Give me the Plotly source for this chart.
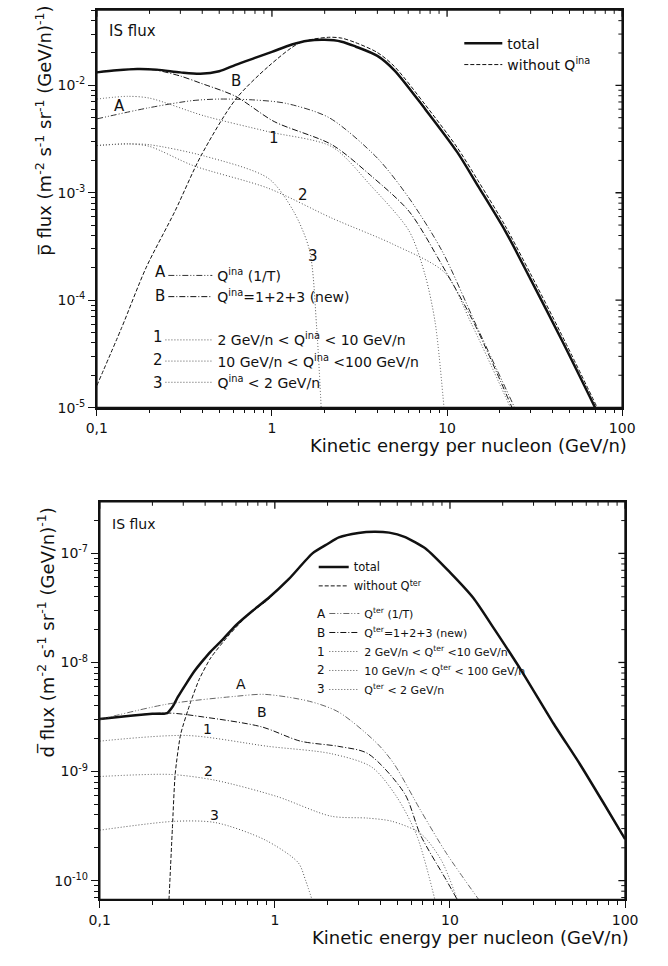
import math
import plotly.graph_objects as go

W, H = 668, 966
FONT = "DejaVu Sans"

# ---------------- top panel: antiproton IS flux ----------------
p_total_E = [0.1, 0.13, 0.17, 0.22, 0.3, 0.39, 0.5, 0.62, 0.8, 1.0, 1.3, 1.6, 2.0, 2.5, 3.0, 4.0, 5.0, 7.5, 11.4, 15, 21.5, 30, 45, 70]
p_total_F = [1.32e-2, 1.38e-2, 1.42e-2, 1.40e-2, 1.32e-2, 1.28e-2, 1.35e-2, 1.55e-2, 1.8e-2, 2.05e-2, 2.4e-2, 2.6e-2, 2.65e-2, 2.55e-2, 2.3e-2, 1.88e-2, 1.38e-2, 6.0e-3, 2.4e-3, 1.16e-3, 4.4e-4, 1.56e-4, 4.3e-5, 1.0e-5]

p_noina_E = [0.1, 0.139, 0.191, 0.279, 0.393, 0.62, 0.955, 1.45, 2.1, 2.5, 3.0, 4.0, 5.0, 7.5, 11.4, 15, 21.5, 30, 45, 72]
p_noina_F = [1.6e-5, 5.6e-5, 2.0e-4, 6.7e-4, 2.2e-3, 7.4e-3, 1.5e-2, 2.5e-2, 2.8e-2, 2.75e-2, 2.5e-2, 2.02e-2, 1.5e-2, 6.6e-3, 2.65e-3, 1.3e-3, 4.9e-4, 1.75e-4, 4.8e-5, 1.0e-5]

p_A_E = [0.1, 0.2, 0.35, 0.5, 0.8, 1.2, 2.12, 4.0, 6.07, 9.33, 14.7, 24.3]
p_A_F = [4.87e-3, 6.2e-3, 7.2e-3, 7.45e-3, 7.3e-3, 6.8e-3, 5.0e-3, 2.1e-3, 8.9e-4, 2.9e-4, 5.8e-5, 1.0e-5]

p_B_E = [0.1, 0.13, 0.17, 0.22, 0.3, 0.39, 0.62, 1.03, 2.2, 3.66, 6.07, 9.33, 14.2, 23.5]
p_B_F = [1.32e-2, 1.38e-2, 1.42e-2, 1.38e-2, 1.22e-2, 1.05e-2, 7.9e-3, 4.6e-3, 2.8e-3, 1.45e-3, 6.7e-4, 2.14e-4, 6.2e-5, 1.0e-5]

p_1_E = [0.1, 0.15, 0.2, 0.41, 0.955, 2.2, 3.66, 6.07, 7.5, 8.55, 9.6]
p_1_F = [7.45e-3, 7.9e-3, 7.6e-3, 5.2e-3, 3.7e-3, 2.68e-3, 1.17e-3, 4.4e-4, 1.7e-4, 6.2e-5, 1.0e-5]

p_2_E = [0.1, 0.15, 0.2, 0.355, 0.955, 2.2, 4.95, 9.7, 13.8, 23]
p_2_F = [2.75e-3, 2.85e-3, 2.7e-3, 1.79e-3, 1.1e-3, 5.8e-4, 3.3e-4, 1.8e-4, 6.0e-5, 1.0e-5]

p_3_E = [0.1, 0.15, 0.2, 0.41, 0.955, 1.33, 1.64, 1.8, 1.91]
p_3_F = [2.75e-3, 2.85e-3, 2.8e-3, 2.2e-3, 1.36e-3, 6.7e-4, 2.9e-4, 5.6e-5, 1.0e-5]

# ---------------- bottom panel: antideuteron IS flux ----------------
d_total_E = [0.1, 0.15, 0.2, 0.243, 0.26, 0.279, 0.31, 0.347, 0.39, 0.43, 0.5, 0.6, 0.75, 0.92, 1.2, 1.64, 2.0, 2.32, 3.0, 3.7, 4.5, 5.5, 7.25, 10, 13.6, 18, 25.7, 39, 55, 75, 100]
d_total_F = [3.03e-9, 3.25e-9, 3.38e-9, 3.44e-9, 3.9e-9, 4.8e-9, 6.3e-9, 8.3e-9, 1.05e-8, 1.26e-8, 1.6e-8, 2.2e-8, 3.0e-8, 3.9e-8, 5.8e-8, 1.0e-7, 1.22e-7, 1.4e-7, 1.54e-7, 1.58e-7, 1.55e-7, 1.42e-7, 1.11e-7, 6.7e-8, 3.9e-8, 2.0e-8, 8.3e-9, 2.76e-9, 1.18e-9, 5.2e-10, 2.4e-10]

d_noter_E = [0.245, 0.26, 0.27, 0.29, 0.33, 0.37, 0.43, 0.55, 0.7, 0.92, 1.2, 1.64, 2.0, 2.32, 3.0, 3.7, 4.5, 5.5, 7.25, 10, 13.6, 18, 25.7, 39, 55, 75, 100]
d_noter_F = [4e-11, 3e-10, 9.6e-10, 2.2e-9, 4.3e-9, 7e-9, 1.1e-8, 1.8e-8, 2.7e-8, 3.8e-8, 5.8e-8, 1.0e-7, 1.22e-7, 1.4e-7, 1.54e-7, 1.58e-7, 1.55e-7, 1.42e-7, 1.11e-7, 6.7e-8, 3.9e-8, 2.0e-8, 8.3e-9, 2.76e-9, 1.18e-9, 5.2e-10, 2.4e-10]

d_A_E = [0.1, 0.243, 0.6, 0.875, 1.58, 2.32, 3.85, 4.8, 6.8, 9.5, 14.6]
d_A_F = [3.0e-9, 4.15e-9, 4.9e-9, 5.1e-9, 4.4e-9, 3.5e-9, 1.8e-9, 1.17e-9, 4.4e-10, 1.8e-10, 6.7e-11]

d_B_E = [0.1, 0.243, 0.393, 0.84, 1.4, 2.32, 3.4, 5.5, 6.8, 9.5, 11]
d_B_F = [3.03e-9, 3.44e-9, 3.16e-9, 2.57e-9, 1.9e-9, 1.7e-9, 1.46e-9, 6.3e-10, 2.6e-10, 1.02e-10, 6.7e-11]

d_1_E = [0.1, 0.316, 0.92, 2.09, 3.57, 4.95, 6.46, 8.2]
d_1_F = [1.9e-9, 2.14e-9, 1.7e-9, 1.46e-9, 1.1e-9, 5.9e-10, 2.6e-10, 6.7e-11]

d_2_E = [0.1, 0.255, 0.46, 1.03, 2.09, 3.4, 4.66, 6.8, 8.9, 11]
d_2_F = [9.0e-10, 9.4e-10, 8.3e-10, 5.9e-10, 3.9e-10, 3.74e-10, 3.5e-10, 2.7e-10, 1.55e-10, 6.7e-11]

d_3_E = [0.1, 0.27, 0.46, 0.88, 1.36, 1.5, 1.63]
d_3_F = [2.9e-10, 3.5e-10, 3.4e-10, 2.36e-10, 1.46e-10, 1.0e-10, 6.7e-11]

# tick labels
x_tickvals = [0.1, 1, 10, 100]
x_ticktext = ["0,1", "1", "10", "100"]
p_y_tickvals = [1e-5, 1e-4, 1e-3, 1e-2]
p_y_ticktext = ["10<sup>-5</sup>", "10<sup>-4</sup>", "10<sup>-3</sup>", "10<sup>-2</sup>"]
d_y_tickvals = [1e-10, 1e-9, 1e-8, 1e-7]
d_y_ticktext = ["10<sup>-10</sup>", "10<sup>-9</sup>", "10<sup>-8</sup>", "10<sup>-7</sup>"]


def minor_vals(lo_exp, hi_exp, lo, hi):
    vals = []
    for d in range(lo_exp, hi_exp + 1):
        for k in range(2, 10):
            v = k * 10.0 ** d
            if lo <= v <= hi:
                vals.append(v)
    return vals


def px(x):
    return x / W


def py(y):
    return 1 - y / H


fig = go.Figure()

BLACK = "#111111"
GRAY = "#555555"


def add(E, F, name, line, xa, ya, legend, showlegend=True, group=None, smooth=0.8):
    line = dict(line, shape="spline", smoothing=smooth)
    fig.add_trace(go.Scatter(
        x=E, y=F, mode="lines", name=name, line=line,
        xaxis=xa, yaxis=ya, legend=legend, showlegend=showlegend,
        legendgroup=group, hoverinfo="skip"))


# top panel traces
add(p_total_E, p_total_F, "total", dict(color=BLACK, width=2.5), "x", "y", "legend")
add(p_noina_E, p_noina_F, "without Q<sup>ina</sup>", dict(color=BLACK, width=1, dash="4px,2px"), "x", "y", "legend")
add(p_A_E, p_A_F, "Q<sup>ina</sup> (1/T)", dict(color="#333333", width=1, dash="6px,2px,1px,2px,1px,2px"), "x", "y", "legend2", group="pA")
add(p_B_E, p_B_F, "Q<sup>ina</sup>=1+2+3 (new)", dict(color=BLACK, width=1, dash="6px,2px,1px,2px"), "x", "y", "legend2", group="pB")
add(p_1_E, p_1_F, "2 GeV/n < Q<sup>ina</sup> < 10 GeV/n", dict(color=GRAY, width=1, dash="1px,2px"), "x", "y", "legend3", group="p1")
add(p_2_E, p_2_F, "10 GeV/n < Q<sup>ina</sup> <100 GeV/n", dict(color=GRAY, width=1, dash="1px,2px"), "x", "y", "legend3", group="p2")
add(p_3_E, p_3_F, "Q<sup>ina</sup> < 2 GeV/n", dict(color=GRAY, width=1, dash="1px,2px"), "x", "y", "legend3", group="p3")

# bottom panel traces
add(d_total_E, d_total_F, "total", dict(color=BLACK, width=2.5), "x2", "y2", "legend4", smooth=0.6)
add(d_noter_E, d_noter_F, "without Q<sup>ter</sup>", dict(color=BLACK, width=1, dash="4px,2px"), "x2", "y2", "legend4", smooth=0.6)
add(d_A_E, d_A_F, "Q<sup>ter</sup> (1/T)", dict(color="#666666", width=1, dash="6px,2px,1px,2px,1px,2px"), "x2", "y2", "legend5")
add(d_B_E, d_B_F, "Q<sup>ter</sup>=1+2+3 (new)", dict(color=BLACK, width=1, dash="6px,2px,1px,2px"), "x2", "y2", "legend5")
add(d_1_E, d_1_F, "2 GeV/n < Q<sup>ter</sup> <10 GeV/n", dict(color=GRAY, width=1, dash="1px,2px"), "x2", "y2", "legend5")
add(d_2_E, d_2_F, "10 GeV/n < Q<sup>ter</sup> < 100 GeV/n", dict(color=GRAY, width=1, dash="1px,2px"), "x2", "y2", "legend5")
add(d_3_E, d_3_F, "Q<sup>ter</sup> < 2 GeV/n", dict(color=GRAY, width=1, dash="1px,2px"), "x2", "y2", "legend5")

P_YR = [-5, -1.298]
D_YR = [-10.173, -6.527]
XR = [-1, 2]
x_minor = minor_vals(-1, 1, 0.1, 100)
p_y_minor = minor_vals(-5, -2, 1e-5, 10 ** P_YR[1])
d_y_minor = minor_vals(-11, -7, 10 ** D_YR[0], 10 ** D_YR[1])

tickfont = dict(family=FONT, size=14, color=BLACK)


def xax(domain, anchor):
    return dict(type="log", range=XR, domain=domain, anchor=anchor,
                showline=True, linecolor=BLACK, linewidth=1.6, mirror=True,
                showgrid=False, zeroline=False, ticks="outside", ticklen=7, tickwidth=1.3,
                tickcolor=BLACK, tickmode="array", tickvals=x_tickvals,
                ticktext=x_ticktext, tickfont=tickfont,
                minor=dict(tickmode="array", tickvals=x_minor, ticks="outside", ticklen=4,
                           tickwidth=1, tickcolor=BLACK, showgrid=False),
                fixedrange=True)


def yax(domain, anchor, rng, tv, tt, mv):
    return dict(type="log", range=rng, domain=domain, anchor=anchor,
                showline=True, linecolor=BLACK, linewidth=1.6, mirror=True,
                showgrid=False, zeroline=False, ticks="outside", ticklen=7, tickwidth=1.3,
                tickcolor=BLACK, tickmode="array", tickvals=tv, ticktext=tt,
                tickfont=tickfont,
                minor=dict(tickmode="array", tickvals=mv, ticks="outside", ticklen=4,
                           tickwidth=1, tickcolor=BLACK, showgrid=False),
                fixedrange=True)


top_box = (89, 634, 10, 411)   # left, right, top, bottom in pixels
bot_box = (92, 637, 506, 907)
top_xd = [px(top_box[0]), px(top_box[1])]
top_yd = [py(top_box[3]), py(top_box[2])]
bot_xd = [px(bot_box[0]), px(bot_box[1])]
bot_yd = [py(bot_box[3]), py(bot_box[2])]

layout = dict(
    width=W, height=H, autosize=False,
    margin=dict(l=0, r=0, t=0, b=0),
    paper_bgcolor="white", plot_bgcolor="white",
    font=dict(family=FONT, size=14, color=BLACK),
    xaxis=xax(top_xd, "y"),
    yaxis=yax(top_yd, "x", P_YR, p_y_tickvals, p_y_ticktext, p_y_minor),
    xaxis2=xax(bot_xd, "y2"),
    yaxis2=yax(bot_yd, "x2", D_YR, d_y_tickvals, d_y_ticktext, d_y_minor),
    showlegend=True,
)

leg_common = dict(bgcolor="rgba(0,0,0,0)", borderwidth=0, xanchor="left", yanchor="top",
                  traceorder="normal")
layout["legend"] = dict(leg_common, x=px(465), y=py(28), font=dict(family=FONT, size=14, color=BLACK),
                        itemwidth=38)
layout["legend2"] = dict(leg_common, x=px(158), y=py(262), font=dict(family=FONT, size=14, color=BLACK),
                         itemwidth=44, tracegroupgap=2)
layout["legend3"] = dict(leg_common, x=px(155), y=py(327), font=dict(family=FONT, size=14, color=BLACK),
                         itemwidth=47, tracegroupgap=2)
layout["legend4"] = dict(leg_common, x=px(314), y=py(557), font=dict(family=FONT, size=11.5, color=BLACK),
                         itemwidth=30)
layout["legend5"] = dict(leg_common, x=px(325), y=py(604), font=dict(family=FONT, size=11, color=BLACK),
                         itemwidth=30)

fig.update_layout(**layout)

# frame drawn on the paper plus inward-pointing ticks on top/right
shapes = []
for xa, ya, box, xd, yd, ytv, ymv in [("x", "y", top_box, top_xd, top_yd, p_y_tickvals, p_y_minor),
                                      ("x2", "y2", bot_box, bot_xd, bot_yd, d_y_tickvals, d_y_minor)]:
    pw = box[1] - box[0]
    ph = box[3] - box[2]
    shapes.append(dict(type="rect", xref="paper", yref="paper", x0=xd[0], x1=xd[1], y0=yd[0], y1=yd[1],
                       line=dict(color=BLACK, width=1.6), fillcolor="rgba(0,0,0,0)", layer="above"))
    for vals, ln, wd in [(x_tickvals, 7, 1.3), (x_minor, 4, 1)]:
        for v in vals:
            shapes.append(dict(type="line", xref=xa, yref=ya + " domain", x0=v, x1=v,
                               y0=1, y1=1 - ln / ph, line=dict(color=BLACK, width=wd), layer="above"))
    for vals, ln, wd in [(ytv, 7, 1.3), (ymv, 4, 1)]:
        for v in vals:
            shapes.append(dict(type="line", xref=xa + " domain", yref=ya, x0=1, x1=1 - ln / pw,
                               y0=v, y1=v, line=dict(color=BLACK, width=wd), layer="above"))
fig.update_layout(shapes=shapes)

annotations = []


def ann_paper(text, x, y, size, xanchor="center", angle=0):
    annotations.append(dict(text=text, x=px(x), y=py(y), xref="paper", yref="paper",
                            showarrow=False, xanchor=xanchor, yanchor="middle",
                            textangle=angle, font=dict(family=FONT, size=size, color=BLACK)))


def ann_data(text, E, F, xa, ya, size):
    annotations.append(dict(text=text, x=math.log10(E), y=math.log10(F), xref=xa, yref=ya,
                            showarrow=False, xanchor="center", yanchor="middle",
                            font=dict(family=FONT, size=size, color=BLACK)))


# titles
ann_paper("IS flux", 100, 31, 15, xanchor="left")
ann_paper("IS flux", 103, 528, 14, xanchor="left")
ann_paper("Kinetic energy per nucleon (GeV/n)", 475, 449, 18)
ann_paper("Kinetic energy per nucleon (GeV/n)", 477, 945, 18)
ann_paper("p\u0305 flux (m<sup>-2</sup> s<sup>-1</sup> sr<sup>-1</sup> (GeV/n)<sup>-1</sup>)", 34, 132, 18, angle=-90)
ann_paper("d\u0305 flux (m<sup>-2</sup> s<sup>-1</sup> sr<sup>-1</sup> (GeV/n)<sup>-1</sup>)", 36, 638, 18, angle=-90)

# legend letters
for t, y in zip(["A", "B"], [274, 298]):
    ann_paper(t, 155, y, 15)
for t, y in zip(["1", "2", "3"], [340, 363, 386]):
    ann_paper(t, 152, y, 15)
for t, y in zip(["A", "B", "1", "2", "3"], [619, 638, 657, 676, 695]):
    ann_paper(t, 322, y, 12)

# curve labels (top)
ann_data("A", 0.135, 6.4e-3, "x", "y", 15)
ann_data("B", 0.62, 1.09e-2, "x", "y", 15)
ann_data("1", 1.03, 3.2e-3, "x", "y", 15)
ann_data("2", 1.51, 9.5e-4, "x", "y", 15)
ann_data("3", 1.71, 2.6e-4, "x", "y", 15)
# curve labels (bottom)
ann_data("A", 0.637, 6.3e-9, "x2", "y2", 14)
ann_data("B", 0.84, 3.5e-9, "x2", "y2", 14)
ann_data("1", 0.41, 2.46e-9, "x2", "y2", 14)
ann_data("2", 0.42, 1.02e-9, "x2", "y2", 14)
ann_data("3", 0.45, 4.0e-10, "x2", "y2", 14)

fig.update_layout(annotations=annotations)

fig.write_html("out.html")
